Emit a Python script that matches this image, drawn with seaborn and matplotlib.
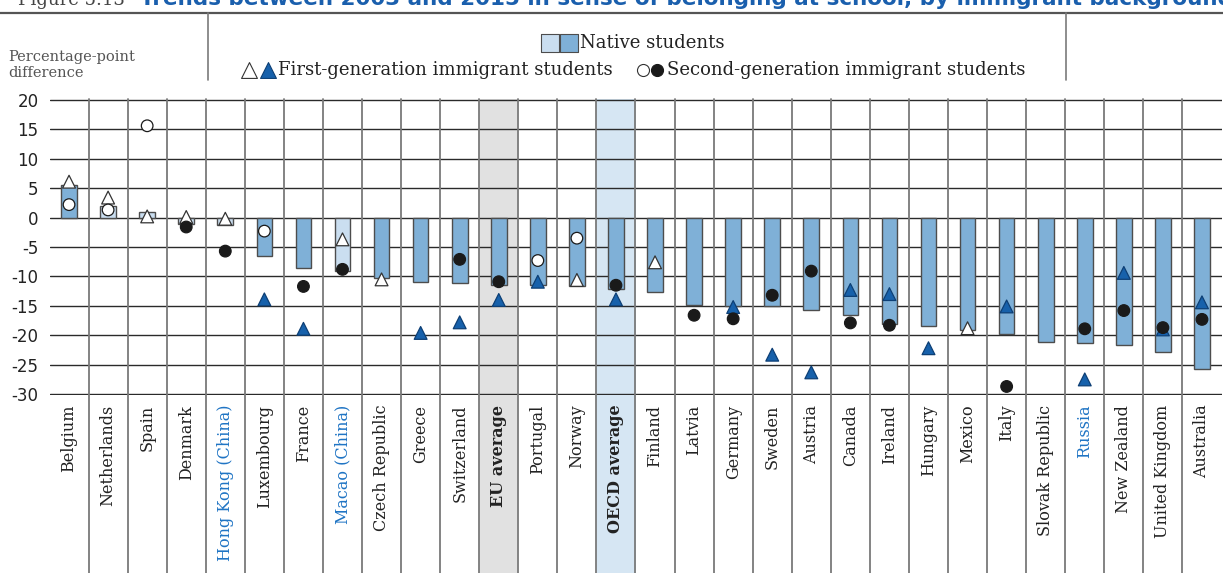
import numpy as np
import pandas as pd
import matplotlib.pyplot as plt
import seaborn as sns

# Data
countries = ["Belgium", "Netherlands", "Spain", "Denmark", "Hong Kong (China)",
             "Luxembourg", "France", "Macao (China)", "Czech Republic", "Greece",
             "Switzerland", "EU average", "Portugal", "Norway", "OECD average",
             "Finland", "Latvia", "Germany", "Sweden", "Austria", "Canada",
             "Ireland", "Hungary", "Mexico", "Italy", "Slovak Republic", "Russia",
             "New Zealand", "United Kingdom", "Australia"]

native = [5.6, 2.0, 1.0, -1.1, -1.3, -6.5, -8.5, -9.0, -10.2, -10.9,
          -11.1, -11.5, -11.5, -11.7, -12.2, -12.7, -14.8, -15.0, -15.1, -15.7,
          -16.6, -18.0, -18.5, -19.1, -19.7, -21.2, -21.3, -21.7, -22.9, -25.7]
native_sig = [True, False, False, False, False, True, True, False, True, True,
              True, True, True, True, True, True, True, True, True, True,
              True, True, True, True, True, True, True, True, True, True]

first_gen = [6.1, 3.4, 0.2, 0.1, -0.2, -13.9, -18.9, -3.7, -10.5, -19.6,
             -17.8, -14.0, -10.9, -10.6, -13.9, -7.6, np.nan, -15.2, -23.3, -26.3,
             -12.3, -13.0, -22.2, -18.8, -15.1, np.nan, -27.5, -9.4, -19.0, -14.4]
first_sig = [False, False, False, False, False, True, True, False, False, True,
             True, True, True, False, True, False, False, True, True, True,
             True, True, True, False, True, False, True, True, True, True]

second_gen = [2.2, 1.3, 15.6, -1.6, -5.7, -2.3, -11.7, -8.8, np.nan, np.nan,
              -7.1, -10.9, -7.3, -3.5, -11.5, np.nan, -16.6, -17.2, -13.2, -9.1,
              -17.9, -18.3, np.nan, np.nan, -28.7, np.nan, -18.9, -15.8, -18.7, -17.3]
second_sig = [False, False, False, True, True, False, True, True, False, False,
              True, True, False, False, True, False, True, True, True, True,
              True, True, False, False, True, False, True, True, True, True]

partners = ["Hong Kong (China)", "Macao (China)", "Russia"]
averages = ["EU average", "OECD average"]

df = pd.DataFrame({
    "country": countries,
    "native": native,
    "native_sig": native_sig,
    "first": first_gen,
    "first_sig": first_sig,
    "second": second_gen,
    "second_sig": second_sig,
})
df["pos"] = np.arange(len(df))

BAR_DARK = "#7fb0d7"
BAR_LIGHT = "#cadef0"
TRI_BLUE = "#1761ab"
GRID = "#2a2a2a"
SEP = "#7a7a7a"

sns.set_style("white")
plt.rcParams["font.family"] = ["DejaVu Serif"]
plt.rcParams["axes.unicode_minus"] = False

W, H = 1223, 573
fig = plt.figure(figsize=(W / 100, H / 100), dpi=100)
ax_left, ax_right, ax_top, ax_bot = 49.5, 1221.5, 99, 395
ax = fig.add_axes([ax_left / W, 1 - ax_bot / H, (ax_right - ax_left) / W, (ax_bot - ax_top) / H])

# shaded columns for the averages (run down through the label area)
below = -(H - ax_bot) / (ax_bot - ax_top)
for name, col in zip(averages, ["#e1e1e1", "#d6e6f3"]):
    i = countries.index(name)
    ax.axvspan(i - 0.5, i + 0.5, ymin=below, ymax=1, color=col, lw=0, zorder=0, clip_on=False)

sns.barplot(data=df, x="country", y="native", hue="native_sig", order=countries,
            palette={True: BAR_DARK, False: BAR_LIGHT}, dodge=False, width=0.4,
            saturation=1, edgecolor="#4d4d4d", linewidth=1.0, legend=False,
            ax=ax, zorder=2)

# vertical separators between countries
for i in range(len(countries) - 1):
    ax.plot([i + 0.5, i + 0.5], [below, 1], transform=ax.get_xaxis_transform(),
            color=SEP, lw=1.3, clip_on=False, zorder=0.6)

# first-generation (triangles)
f = df.dropna(subset=["first"])
ax.scatter(f["pos"], f["first"], marker="^", s=85, zorder=4, linewidths=0.9,
           facecolors=[TRI_BLUE if s else "white" for s in f["first_sig"]],
           edgecolors=["#0d3f75" if s else "#333333" for s in f["first_sig"]])

# second-generation (circles)
s2 = df.dropna(subset=["second"])
ax.scatter(s2["pos"], s2["second"], marker="o", s=70, zorder=5, linewidths=0.9,
           facecolors=["#1a1a1a" if s else "white" for s in s2["second_sig"]],
           edgecolors="#1a1a1a")

ax.set_xlim(-0.5, len(countries) - 0.5)
ax.set_ylim(-30.15, 20.15)
ax.set_yticks(range(-30, 21, 5))
ax.yaxis.grid(True, color=GRID, lw=1.0)
ax.xaxis.grid(False)
ax.set_axisbelow(True)
for sp in ax.spines.values():
    sp.set_visible(False)
ax.set_xlabel("")
ax.set_ylabel("")
ax.tick_params(axis="y", length=5, width=1.0, color=GRID, pad=3, labelsize=12,
               labelcolor="#222222")
for t in ax.get_yticklabels():
    t.set_family("DejaVu Sans")
ax.tick_params(axis="x", length=0, pad=7)
ax.set_xticks(range(len(countries)))
ax.set_xticklabels(countries, rotation=90, va="top", ha="center", fontsize=11.5,
                   color="#222222")
for t in ax.get_xticklabels():
    if t.get_text() in partners:
        t.set_color("#1f74c4")
    if t.get_text() in averages:
        t.set_fontweight("bold")

# header panel (title strip, axis note, legend) in pixel coordinates
hd = fig.add_axes([0, 1 - 99 / H, 1, 99 / H])
hd.set_xlim(0, W)
hd.set_ylim(99, 0)
hd.axis("off")
hd.plot([0, W], [13, 13], color="#555555", lw=1.6, clip_on=False)
hd.plot([208, 208], [13, 80], color=SEP, lw=1.2)
hd.plot([1066, 1066], [13, 80], color=SEP, lw=1.2)

hd.text(18, 5, "Figure 5.13", fontsize=13, color="#444444", va="baseline",
        clip_on=False)
hd.text(140, 5, "Trends between 2003 and 2015 in sense of belonging at school, by immigrant background",
        fontsize=15.5, fontweight="bold", color="#1a5fad", va="baseline",
        family="DejaVu Sans", clip_on=False)

hd.text(8, 57, "Percentage-point", fontsize=10.5, color="#555555", va="center")
hd.text(8, 73, "difference", fontsize=10.5, color="#555555", va="center")

hd.scatter([550], [43], marker="s", s=150, facecolors=BAR_LIGHT, edgecolors="#4d4d4d", lw=0.8)
hd.scatter([569], [43], marker="s", s=150, facecolors=BAR_DARK, edgecolors="#4d4d4d", lw=0.8)
hd.text(580, 43, "Native students", fontsize=13, color="#222222", va="center")

hd.scatter([249], [70], marker="^", s=130, facecolors="white", edgecolors="#333333", lw=0.8)
hd.scatter([268], [70], marker="^", s=130, facecolors=TRI_BLUE, edgecolors="#0d3f75", lw=0.8)
hd.text(278, 70, "First-generation immigrant students", fontsize=13, color="#222222", va="center")

hd.scatter([643], [70], marker="o", s=75, facecolors="white", edgecolors="#333333", lw=0.8)
hd.scatter([657], [70], marker="o", s=75, facecolors="#1a1a1a", edgecolors="#1a1a1a", lw=0.8)
hd.text(667, 70, "Second-generation immigrant students", fontsize=13, color="#222222", va="center")

fig.savefig("out.png", dpi=100)
